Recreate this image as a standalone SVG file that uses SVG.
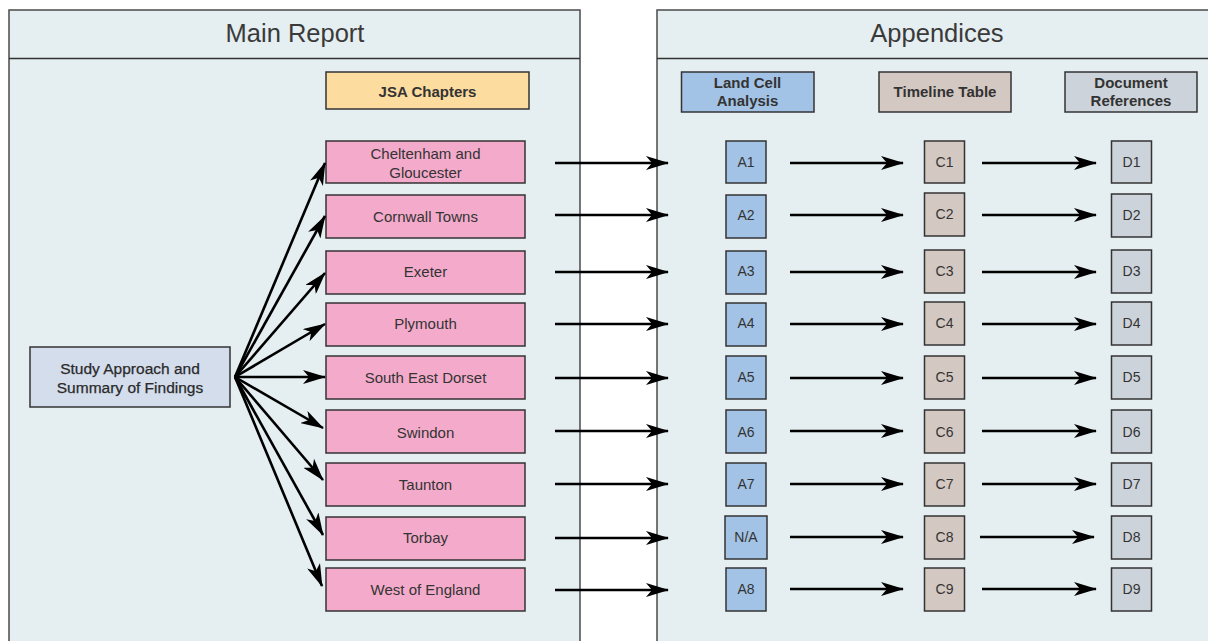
<svg xmlns="http://www.w3.org/2000/svg" width="1208" height="641" viewBox="0 0 1208 641">
  <style>
    text { font-family: "Liberation Sans", Arial, sans-serif; fill: #333; text-anchor: middle; dominant-baseline: central; }
    .panel { fill: #e5eef0; stroke: #4a4a4a; stroke-width: 1.5; }
    .title { font-size: 25.5px; fill: #3a3a3a; }
    .box { stroke: #333; stroke-width: 1.5; }
    .pink { fill: #f4abcb; }
    .jsa { fill: #fddc9f; }
    .study { fill: #d3ddec; }
    .land { fill: #a3c3e6; }
    .time { fill: #d4c8c2; }
    .doc { fill: #cdd3da; }
    .lbl { font-size: 15px; }
    .hdr { font-size: 15px; font-weight: bold; }
    .src { font-size: 15.5px; fill: #2a2a2a; stroke: #2a2a2a; stroke-width: 0.25; }
    .sm { font-size: 14px; }
    .conn line { stroke: #000; stroke-width: 2.6; marker-end: url(#arrow); }
  </style>
  <defs>
    <marker id="arrow" markerUnits="userSpaceOnUse" viewBox="0 0 23 14" refX="22" refY="7" markerWidth="23" markerHeight="14" orient="auto">
      <path d="M0,0 L23,7 L0,14 L6,7 Z" fill="#000"/>
    </marker>
  </defs>

  <rect width="1208" height="641" fill="#fff"/>

  <!-- Panels -->
  <g id="panel-main">
    <rect class="panel" x="9" y="10" width="571" height="640"/>
    <line x1="9" y1="58.5" x2="580" y2="58.5" stroke="#333" stroke-width="1.5"/>
    <text class="title" x="295" y="33">Main Report</text>
  </g>
  <g id="panel-appendices">
    <rect class="panel" x="657" y="10" width="560" height="640"/>
    <line x1="657" y1="58.5" x2="1208" y2="58.5" stroke="#333" stroke-width="1.5"/>
    <text class="title" x="937" y="33">Appendices</text>
  </g>

  <!-- Column headers -->
  <g id="hdr-jsa">
    <rect class="box jsa" x="326" y="72" width="203" height="37"/>
    <text class="hdr" x="427.5" y="91">JSA Chapters</text>
  </g>
  <g id="hdr-land">
    <rect class="box land" x="681.5" y="72" width="132.5" height="40"/>
    <text class="hdr" x="747.5" y="82">Land Cell</text>
    <text class="hdr" x="747.5" y="100">Analysis</text>
  </g>
  <g id="hdr-timeline">
    <rect class="box time" x="879" y="72" width="132" height="40"/>
    <text class="hdr" x="945" y="91">Timeline Table</text>
  </g>
  <g id="hdr-docs">
    <rect class="box doc" x="1065" y="72" width="132" height="40"/>
    <text class="hdr" x="1131" y="82">Document</text>
    <text class="hdr" x="1131" y="100">References</text>
  </g>

  <!-- Source node -->
  <g id="study">
    <rect class="box study" x="30" y="347" width="200" height="60"/>
    <text class="src" x="130" y="368">Study Approach and</text>
    <text class="src" x="130" y="387">Summary of Findings</text>
  </g>

  <!-- Chapter nodes -->
  <g id="ch-cheltenham">
    <rect class="box pink" x="326" y="141" width="199" height="42"/>
    <text class="lbl" x="425.5" y="153">Cheltenham and</text>
    <text class="lbl" x="425.5" y="172">Gloucester</text>
  </g>
  <g id="ch-cornwall">
    <rect class="box pink" x="326" y="195" width="199" height="43"/>
    <text class="lbl" x="425.5" y="216">Cornwall Towns</text>
  </g>
  <g id="ch-exeter">
    <rect class="box pink" x="326" y="251" width="199" height="43"/>
    <text class="lbl" x="425.5" y="271">Exeter</text>
  </g>
  <g id="ch-plymouth">
    <rect class="box pink" x="326" y="303" width="199" height="43"/>
    <text class="lbl" x="425.5" y="323">Plymouth</text>
  </g>
  <g id="ch-sedorset">
    <rect class="box pink" x="326" y="356" width="199" height="43"/>
    <text class="lbl" x="425.5" y="377">South East Dorset</text>
  </g>
  <g id="ch-swindon">
    <rect class="box pink" x="326" y="410" width="199" height="43"/>
    <text class="lbl" x="425.5" y="432">Swindon</text>
  </g>
  <g id="ch-taunton">
    <rect class="box pink" x="326" y="463" width="199" height="43"/>
    <text class="lbl" x="425.5" y="484">Taunton</text>
  </g>
  <g id="ch-torbay">
    <rect class="box pink" x="326" y="517" width="199" height="43"/>
    <text class="lbl" x="425.5" y="537">Torbay</text>
  </g>
  <g id="ch-westengland">
    <rect class="box pink" x="326" y="568" width="199" height="43"/>
    <text class="lbl" x="425.5" y="589">West of England</text>
  </g>

  <!-- Land cell analysis nodes -->
  <g id="a1"><rect class="box land" x="726" y="141" width="40" height="42"/><text class="sm" x="746" y="162">A1</text></g>
  <g id="a2"><rect class="box land" x="726" y="195" width="40" height="43"/><text class="sm" x="746" y="215">A2</text></g>
  <g id="a3"><rect class="box land" x="726" y="251" width="40" height="43"/><text class="sm" x="746" y="271">A3</text></g>
  <g id="a4"><rect class="box land" x="726" y="303" width="40" height="43"/><text class="sm" x="746" y="323">A4</text></g>
  <g id="a5"><rect class="box land" x="726" y="356" width="40" height="43"/><text class="sm" x="746" y="377">A5</text></g>
  <g id="a6"><rect class="box land" x="726" y="410" width="40" height="43"/><text class="sm" x="746" y="432">A6</text></g>
  <g id="a7"><rect class="box land" x="726" y="463" width="40" height="43"/><text class="sm" x="746" y="484">A7</text></g>
  <g id="na"><rect class="box land" x="725" y="516" width="42" height="43"/><text class="sm" x="746" y="537">N/A</text></g>
  <g id="a8"><rect class="box land" x="726" y="568" width="40" height="43"/><text class="sm" x="746" y="589">A8</text></g>

  <!-- Timeline table nodes -->
  <g id="c1"><rect class="box time" x="924.5" y="141" width="40" height="42"/><text class="sm" x="944.5" y="162">C1</text></g>
  <g id="c2"><rect class="box time" x="924.5" y="193" width="40" height="43"/><text class="sm" x="944.5" y="214">C2</text></g>
  <g id="c3"><rect class="box time" x="924.5" y="250" width="40" height="43"/><text class="sm" x="944.5" y="271">C3</text></g>
  <g id="c4"><rect class="box time" x="924.5" y="302" width="40" height="43"/><text class="sm" x="944.5" y="323">C4</text></g>
  <g id="c5"><rect class="box time" x="924.5" y="356" width="40" height="43"/><text class="sm" x="944.5" y="377">C5</text></g>
  <g id="c6"><rect class="box time" x="924.5" y="410" width="40" height="43"/><text class="sm" x="944.5" y="432">C6</text></g>
  <g id="c7"><rect class="box time" x="924.5" y="463" width="40" height="43"/><text class="sm" x="944.5" y="484">C7</text></g>
  <g id="c8"><rect class="box time" x="924.5" y="516" width="40" height="43"/><text class="sm" x="944.5" y="537">C8</text></g>
  <g id="c9"><rect class="box time" x="924.5" y="568" width="40" height="43"/><text class="sm" x="944.5" y="589">C9</text></g>

  <!-- Document reference nodes -->
  <g id="d1"><rect class="box doc" x="1111.5" y="141" width="40" height="42"/><text class="sm" x="1131.5" y="162">D1</text></g>
  <g id="d2"><rect class="box doc" x="1111.5" y="194" width="40" height="43"/><text class="sm" x="1131.5" y="215">D2</text></g>
  <g id="d3"><rect class="box doc" x="1111.5" y="250" width="40" height="43"/><text class="sm" x="1131.5" y="271">D3</text></g>
  <g id="d4"><rect class="box doc" x="1111.5" y="302" width="40" height="43"/><text class="sm" x="1131.5" y="323">D4</text></g>
  <g id="d5"><rect class="box doc" x="1111.5" y="356" width="40" height="43"/><text class="sm" x="1131.5" y="377">D5</text></g>
  <g id="d6"><rect class="box doc" x="1111.5" y="410" width="40" height="43"/><text class="sm" x="1131.5" y="432">D6</text></g>
  <g id="d7"><rect class="box doc" x="1111.5" y="463" width="40" height="43"/><text class="sm" x="1131.5" y="484">D7</text></g>
  <g id="d8"><rect class="box doc" x="1111.5" y="516" width="40" height="43"/><text class="sm" x="1131.5" y="537">D8</text></g>
  <g id="d9"><rect class="box doc" x="1111.5" y="568" width="40" height="43"/><text class="sm" x="1131.5" y="589">D9</text></g>

  <!-- Connectors -->
  <g id="connectors" class="conn">
    <!-- fan from the study summary to each chapter -->
    <line x1="235" y1="377" x2="325" y2="163"/>
    <line x1="235" y1="377" x2="325" y2="216"/>
    <line x1="235" y1="377" x2="325" y2="273"/>
    <line x1="235" y1="377" x2="325" y2="324"/>
    <line x1="235" y1="377" x2="325" y2="377"/>
    <line x1="235" y1="377" x2="323" y2="428"/>
    <line x1="235" y1="377" x2="323" y2="480"/>
    <line x1="235" y1="377" x2="323" y2="535"/>
    <line x1="235" y1="377" x2="322" y2="586"/>

    <!-- chapter to land cell analysis -->
    <line x1="555" y1="163" x2="668" y2="163"/>
    <line x1="555" y1="215" x2="668" y2="215"/>
    <line x1="555" y1="272" x2="668" y2="272"/>
    <line x1="555" y1="324" x2="668" y2="324"/>
    <line x1="555" y1="378" x2="668" y2="378"/>
    <line x1="555" y1="431" x2="668" y2="431"/>
    <line x1="555" y1="484" x2="668" y2="484"/>
    <line x1="555" y1="538" x2="668" y2="538"/>
    <line x1="555" y1="590" x2="668" y2="590"/>

    <!-- land cell analysis to timeline table -->
    <line x1="790" y1="163" x2="903" y2="163"/>
    <line x1="790" y1="215" x2="903" y2="215"/>
    <line x1="790" y1="272" x2="903" y2="272"/>
    <line x1="790" y1="324" x2="903" y2="324"/>
    <line x1="790" y1="378" x2="903" y2="378"/>
    <line x1="790" y1="431" x2="903" y2="431"/>
    <line x1="790" y1="484" x2="903" y2="484"/>
    <line x1="790" y1="537" x2="903" y2="537"/>
    <line x1="790" y1="589" x2="903" y2="589"/>

    <!-- timeline table to document references -->
    <line x1="982" y1="163" x2="1096" y2="163"/>
    <line x1="982" y1="215" x2="1096" y2="215"/>
    <line x1="982" y1="272" x2="1096" y2="272"/>
    <line x1="982" y1="324" x2="1096" y2="324"/>
    <line x1="982" y1="378" x2="1096" y2="378"/>
    <line x1="982" y1="431" x2="1096" y2="431"/>
    <line x1="982" y1="484" x2="1096" y2="484"/>
    <line x1="980" y1="537" x2="1094" y2="537"/>
    <line x1="982" y1="589" x2="1096" y2="589"/>
  </g>
</svg>
